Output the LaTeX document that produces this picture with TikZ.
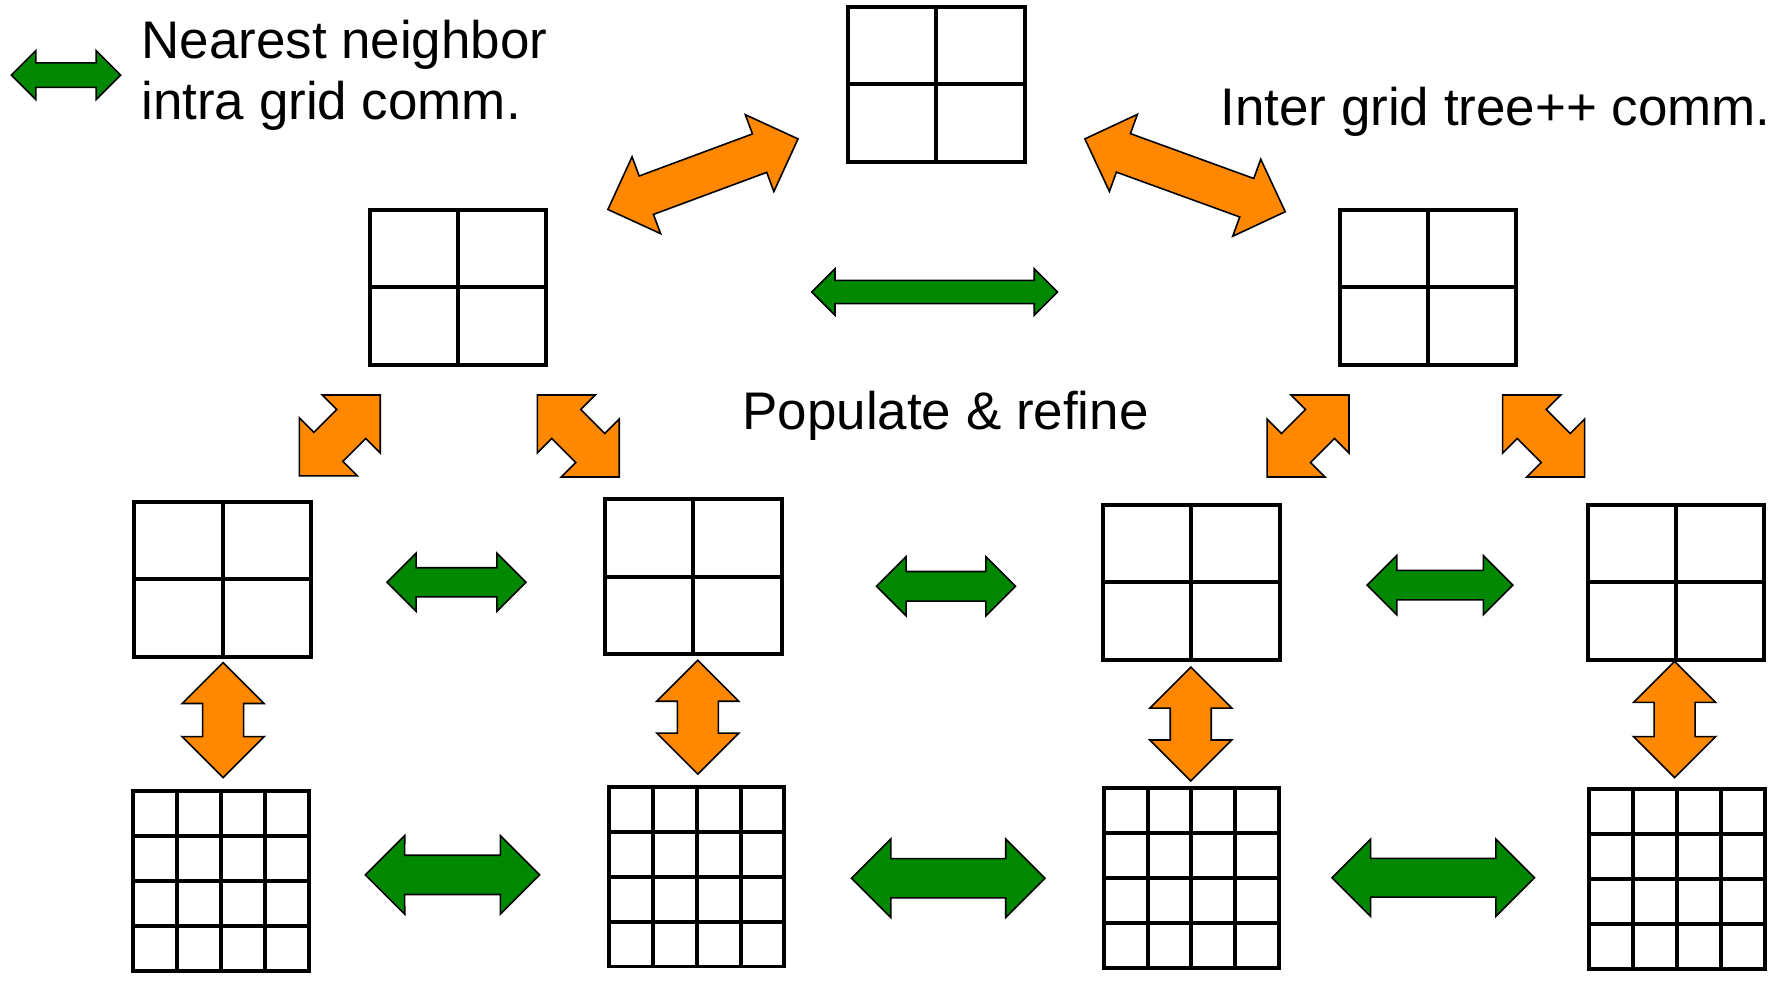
\documentclass[tikz,border=0pt]{standalone}
\usepackage{fontspec}
\setmainfont{Liberation Sans}
\usetikzlibrary{calc}
\definecolor{ngreen}{RGB}{0,136,0}
\definecolor{norange}{RGB}{255,136,0}
\newcommand\blockarr[4]{%
  \pgfmathsetmacro\bwA{#4*1.41421}%
  \pgfmathsetmacro\bwB{#4*1.11803}%
  \draw[#1] (#2) -- ($(#2)!\bwA pt!45:(#3)$) -- ($(#2)!\bwB pt!26.565:(#3)$)
    -- ($(#3)!\bwB pt!-26.565:(#2)$) -- ($(#3)!\bwA pt!-45:(#2)$) -- (#3)
    -- ($(#3)!\bwA pt!45:(#2)$) -- ($(#3)!\bwB pt!26.565:(#2)$)
    -- ($(#2)!\bwB pt!-26.565:(#3)$) -- ($(#2)!\bwA pt!-45:(#3)$) -- cycle;}
\tikzset{
  gline/.style={line width=3.5pt, line cap=rect},
  grid2/.style={draw, line width=3.5pt, minimum width=155pt, minimum height=136pt, inner sep=0pt, outer sep=0pt},
  grid4/.style={draw, line width=3.5pt, minimum width=154pt, minimum height=158pt, inner sep=0pt, outer sep=0pt},
  greenarr/.style={fill=ngreen, draw=black, line width=1.4pt},
  orangearr/.style={fill=norange, draw=black, line width=1.4pt},
  lbl/.style={inner sep=0pt, anchor=base west, font=\fontsize{46.5}{54}\selectfont}
}
\begin{document}
\begin{tikzpicture}[x=1pt, y=-1pt]
\useasboundingbox (0,0) rectangle (1568,861);
% grids
\node[grid2] (gT) at (822.5,74) {};
\node[grid2] (gL) at (402.5,252.5) {};
\node[grid2] (gR) at (1254.5,252.5) {};
\node[grid2] (gA) at (195.5,509) {};
\node[grid2] (gB) at (609,506.5) {};
\node[grid2] (gC) at (1046.5,511.5) {};
\node[grid2] (gD) at (1472,511.5) {};
\node[grid4] (fA) at (194,774) {};
\node[grid4] (fB) at (612,770) {};
\node[grid4] (fC) at (1046.5,771.5) {};
\node[grid4] (fD) at (1473,772.5) {};
\foreach \g in {gT,gL,gR,gA,gB,gC,gD}
  \draw[gline] (\g.north) -- (\g.south) (\g.west) -- (\g.east);
\foreach \g in {fA,fB,fC,fD}
  \foreach \t in {0.25,0.5,0.75}
    \draw[gline] ($(\g.north west)!\t!(\g.north east)$) -- ($(\g.south west)!\t!(\g.south east)$)
                 ($(\g.north west)!\t!(\g.south west)$) -- ($(\g.north east)!\t!(\g.south east)$);
% labels
\node[lbl] (t1) at (124,51) {Nearest neighbor};
\node[lbl] (t2) at (124,105) {intra grid comm.};
\node[lbl] (t3) at (1072,110) {Inter grid tree++ comm.};
\node[lbl] (t4) at (652,377) {Populate \& refine};
% arrow end points
\coordinate (lg1) at (10,66);   \coordinate (lg2) at (106,66);
\coordinate (mg1) at (713,256.5); \coordinate (mg2) at (929,256.5);
\coordinate (ga1) at (340,511.5); \coordinate (ga2) at (462,511.5);
\coordinate (gb1) at (770,515);   \coordinate (gb2) at (892,515);
\coordinate (gc1) at (1201,514);  \coordinate (gc2) at (1329,514);
\coordinate (fa1) at (321,768.5); \coordinate (fa2) at (474,768.5);
\coordinate (fb1) at (748,771.5); \coordinate (fb2) at (918,771.5);
\coordinate (fc1) at (1170,771);  \coordinate (fc2) at (1348,771);
\coordinate (va1) at (196,582);   \coordinate (va2) at (196,683);
\coordinate (vb1) at (613,580);   \coordinate (vb2) at (613,680);
\coordinate (vc1) at (1046,586);  \coordinate (vc2) at (1046,686);
\coordinate (vd1) at (1471,581);  \coordinate (vd2) at (1471,683);
\coordinate (da1) at (263,418);   \coordinate (da2) at (334,347);
\coordinate (db1) at (472,347);   \coordinate (db2) at (544,419);
\coordinate (dc1) at (1113,419);  \coordinate (dc2) at (1185,347);
\coordinate (dd1) at (1320,347);  \coordinate (dd2) at (1392,419);
\coordinate (bl1) at (534,184);   \coordinate (bl2) at (701,122);
\coordinate (br1) at (953,122);   \coordinate (br2) at (1129,186);
% green arrows
\blockarr{greenarr}{lg1}{lg2}{21.5}
\blockarr{greenarr}{mg1}{mg2}{20.5}
\blockarr{greenarr}{ga1}{ga2}{25.5}
\blockarr{greenarr}{gb1}{gb2}{26}
\blockarr{greenarr}{gc1}{gc2}{26}
\blockarr{greenarr}{fa1}{fa2}{34.5}
\blockarr{greenarr}{fb1}{fb2}{34.5}
\blockarr{greenarr}{fc1}{fc2}{34}
% orange arrows
\blockarr{orangearr}{va1}{va2}{36}
\blockarr{orangearr}{vb1}{vb2}{36}
\blockarr{orangearr}{vc1}{vc2}{36}
\blockarr{orangearr}{vd1}{vd2}{36}
\blockarr{orangearr}{da1}{da2}{36}
\blockarr{orangearr}{db1}{db2}{36}
\blockarr{orangearr}{dc1}{dc2}{36}
\blockarr{orangearr}{dd1}{dd2}{36}
\blockarr{orangearr}{bl1}{bl2}{36}
\blockarr{orangearr}{br1}{br2}{36}
\end{tikzpicture}
\end{document}
